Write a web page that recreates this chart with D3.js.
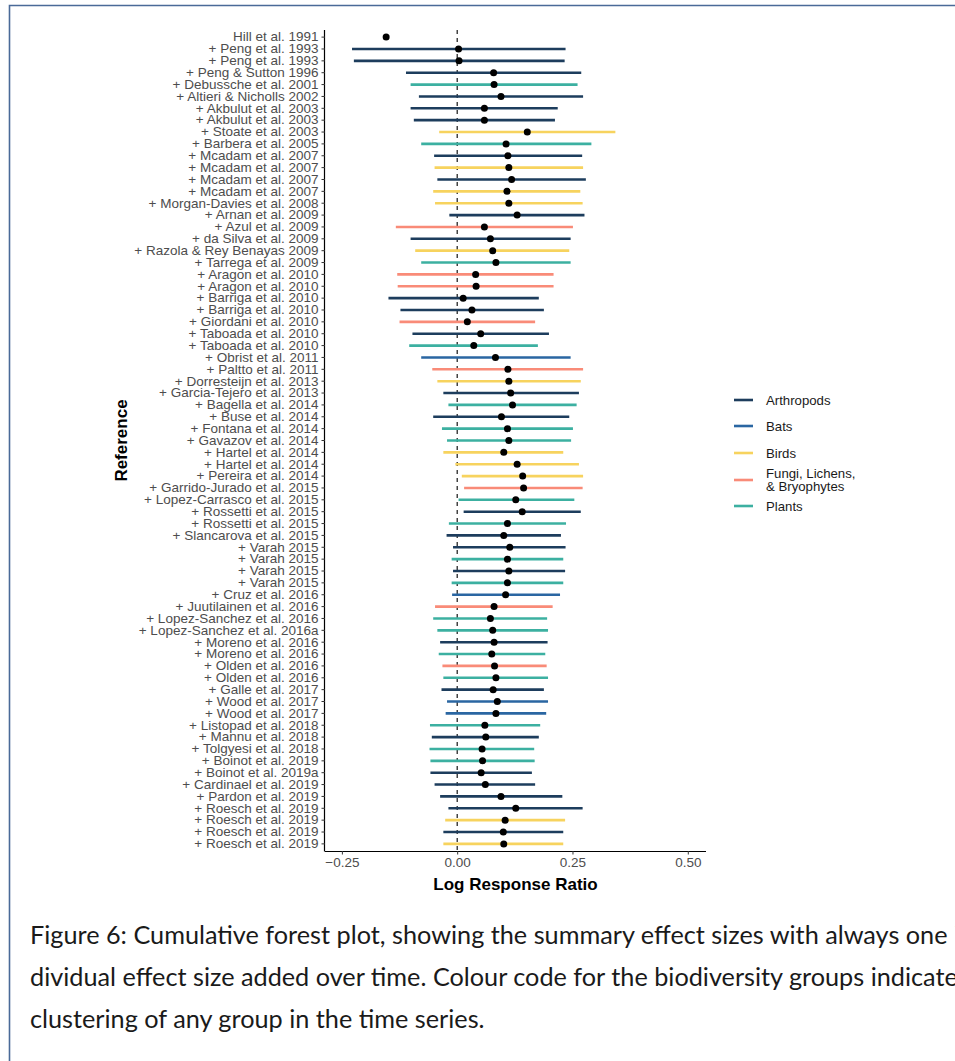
<!DOCTYPE html>
<html>
<head>
<meta charset="utf-8">
<script src="https://cdn.jsdelivr.net/npm/d3@7"></script>
<style>
  html, body { margin: 0; padding: 0; background: #fff; }
  svg { display: block; }
</style>
</head>
<body>
<svg id="chart" width="955" height="1061"></svg>
<script>
// Cumulative meta-analysis: one study added per row
const references = [
  "Hill et al. 1991", "+ Peng et al. 1993", "+ Peng et al. 1993", "+ Peng & Sutton 1996",
  "+ Debussche et al. 2001", "+ Altieri & Nicholls 2002", "+ Akbulut et al. 2003", "+ Akbulut et al. 2003",
  "+ Stoate et al. 2003", "+ Barbera et al. 2005", "+ Mcadam et al. 2007", "+ Mcadam et al. 2007",
  "+ Mcadam et al. 2007", "+ Mcadam et al. 2007", "+ Morgan-Davies et al. 2008", "+ Arnan et al. 2009",
  "+ Azul et al. 2009", "+ da Silva et al. 2009", "+ Razola & Rey Benayas 2009", "+ Tarrega et al. 2009",
  "+ Aragon et al. 2010", "+ Aragon et al. 2010", "+ Barriga et al. 2010", "+ Barriga et al. 2010",
  "+ Giordani et al. 2010", "+ Taboada et al. 2010", "+ Taboada et al. 2010", "+ Obrist et al. 2011",
  "+ Paltto et al. 2011", "+ Dorresteijn et al. 2013", "+ Garcia-Tejero et al. 2013", "+ Bagella et al. 2014",
  "+ Buse et al. 2014", "+ Fontana et al. 2014", "+ Gavazov et al. 2014", "+ Hartel et al. 2014",
  "+ Hartel et al. 2014", "+ Pereira et al. 2014", "+ Garrido-Jurado et al. 2015", "+ Lopez-Carrasco et al. 2015",
  "+ Rossetti et al. 2015", "+ Rossetti et al. 2015", "+ Slancarova et al. 2015", "+ Varah 2015",
  "+ Varah 2015", "+ Varah 2015", "+ Varah 2015", "+ Cruz et al. 2016",
  "+ Juutilainen et al. 2016", "+ Lopez-Sanchez et al. 2016", "+ Lopez-Sanchez et al. 2016a", "+ Moreno et al. 2016",
  "+ Moreno et al. 2016", "+ Olden et al. 2016", "+ Olden et al. 2016", "+ Galle et al. 2017",
  "+ Wood et al. 2017", "+ Wood et al. 2017", "+ Listopad et al. 2018", "+ Mannu et al. 2018",
  "+ Tolgyesi et al. 2018", "+ Boinot et al. 2019", "+ Boinot et al. 2019a", "+ Cardinael et al. 2019",
  "+ Pardon et al. 2019", "+ Roesch et al. 2019", "+ Roesch et al. 2019", "+ Roesch et al. 2019",
  "+ Roesch et al. 2019"
];

const estimate = [
  -0.154, 0.003, 0.004, 0.079, 0.080, 0.095, 0.059, 0.059,
  0.152, 0.106, 0.110, 0.112, 0.118, 0.108, 0.112, 0.130,
  0.059, 0.072, 0.077, 0.084, 0.040, 0.041, 0.013, 0.032,
  0.022, 0.051, 0.036, 0.083, 0.110, 0.112, 0.116, 0.120,
  0.096, 0.109, 0.112, 0.101, 0.130, 0.142, 0.144, 0.127,
  0.141, 0.109, 0.101, 0.114, 0.109, 0.112, 0.109, 0.105,
  0.080, 0.072, 0.077, 0.080, 0.075, 0.081, 0.084, 0.078,
  0.087, 0.084, 0.060, 0.062, 0.054, 0.055, 0.052, 0.061,
  0.095, 0.127, 0.104, 0.100, 0.101
];

// lower / upper confidence limits (first study has no interval drawn)
const ciLower = [
  null, -0.228, -0.224, -0.111, -0.101, -0.083, -0.101, -0.094,
  -0.039, -0.078, -0.050, -0.049, -0.043, -0.052, -0.048, -0.017,
  -0.133, -0.101, -0.091, -0.078, -0.130, -0.129, -0.149, -0.123,
  -0.125, -0.097, -0.104, -0.078, -0.054, -0.043, -0.030, -0.019,
  -0.052, -0.033, -0.022, -0.030, -0.004, 0.010, 0.015, 0.003,
  0.014, -0.018, -0.023, -0.009, -0.012, -0.009, -0.012, -0.011,
  -0.048, -0.052, -0.043, -0.037, -0.040, -0.032, -0.030, -0.034,
  -0.022, -0.025, -0.059, -0.055, -0.060, -0.058, -0.058, -0.049,
  -0.037, -0.019, -0.026, -0.030, -0.030
];

const ciUpper = [
  null, 0.235, 0.233, 0.269, 0.261, 0.273, 0.218, 0.212,
  0.343, 0.291, 0.271, 0.273, 0.279, 0.267, 0.272, 0.276,
  0.251, 0.246, 0.243, 0.246, 0.209, 0.209, 0.177, 0.188,
  0.169, 0.199, 0.175, 0.246, 0.273, 0.268, 0.264, 0.259,
  0.243, 0.251, 0.247, 0.230, 0.264, 0.273, 0.272, 0.254,
  0.268, 0.236, 0.225, 0.235, 0.230, 0.234, 0.230, 0.223,
  0.207, 0.195, 0.197, 0.196, 0.191, 0.194, 0.197, 0.188,
  0.197, 0.193, 0.180, 0.177, 0.167, 0.168, 0.162, 0.169,
  0.228, 0.272, 0.234, 0.230, 0.230
];

const groupOf = [
  "Arthropods", "Arthropods", "Arthropods", "Arthropods", "Plants", "Arthropods", "Arthropods", "Arthropods",
  "Birds", "Plants", "Arthropods", "Birds", "Arthropods", "Birds", "Birds", "Arthropods",
  "Fungi, Lichens, & Bryophytes", "Arthropods", "Birds", "Plants", "Fungi, Lichens, & Bryophytes", "Fungi, Lichens, & Bryophytes", "Arthropods", "Arthropods",
  "Fungi, Lichens, & Bryophytes", "Arthropods", "Plants", "Bats", "Fungi, Lichens, & Bryophytes", "Birds", "Arthropods", "Plants",
  "Arthropods", "Plants", "Plants", "Birds", "Birds", "Birds", "Fungi, Lichens, & Bryophytes", "Plants",
  "Arthropods", "Plants", "Arthropods", "Arthropods", "Plants", "Arthropods", "Plants", "Bats",
  "Fungi, Lichens, & Bryophytes", "Plants", "Plants", "Arthropods", "Plants", "Fungi, Lichens, & Bryophytes", "Plants", "Arthropods",
  "Bats", "Bats", "Plants", "Arthropods", "Plants", "Plants", "Arthropods", "Arthropods",
  "Arthropods", "Arthropods", "Birds", "Arthropods", "Birds"
];

const groups = ["Arthropods", "Bats", "Birds", "Fungi, Lichens, & Bryophytes", "Plants"];
const groupColors = ["#1d3d5d", "#2a66a2", "#f7d35e", "#f98b78", "#3cb0a1"];

const xTicks = [-0.25, 0, 0.25, 0.5];

const caption = [
  "Figure 6: Cumulative forest plot, showing the summary effect sizes with always one in-",
  "dividual effect size added over time. Colour code for the biodiversity groups indicates",
  "clustering of any group in the time series."
];

const rows = references.map((r, i) => ({
  key: i, label: r, est: estimate[i], lo: ciLower[i], hi: ciUpper[i], group: groupOf[i]
}));

const sans = "'Liberation Sans', Arial, Helvetica, sans-serif";
const svg = d3.select("#chart");

// figure frame
svg.append("path")
  .attr("d", "M9.5,1061 V5.5 H955")
  .attr("fill", "none")
  .attr("stroke", "#4a6a98")
  .attr("stroke-width", 1.6);

const panel = { left: 325, right: 706, top: 30, bottom: 851 };

const x = d3.scaleLinear()
  .domain([-0.2866, 0.5395])
  .range([panel.left, panel.right]);

const y = d3.scaleBand()
  .domain(rows.map(d => d.key))
  .range([panel.top, panel.bottom])
  .paddingOuter(0.1)
  .paddingInner(0)
  .align(0.5);

const color = d3.scaleOrdinal().domain(groups).range(groupColors);
const yc = k => y(k) + y.bandwidth() / 2;

// zero reference line
svg.append("line")
  .attr("x1", x(0)).attr("x2", x(0))
  .attr("y1", panel.top).attr("y2", panel.bottom)
  .attr("stroke", "#000")
  .attr("stroke-width", 1.1)
  .attr("stroke-dasharray", "4,4");

// confidence intervals
svg.append("g").selectAll("line")
  .data(rows.filter(d => d.lo !== null))
  .join("line")
  .attr("x1", d => x(d.lo))
  .attr("x2", d => x(d.hi))
  .attr("y1", d => yc(d.key))
  .attr("y2", d => yc(d.key))
  .attr("stroke", d => color(d.group))
  .attr("stroke-width", 2.6);

// summary estimates
svg.append("g").selectAll("circle")
  .data(rows)
  .join("circle")
  .attr("cx", d => x(d.est))
  .attr("cy", d => yc(d.key))
  .attr("r", 3.5)
  .attr("fill", "#000");

// x axis
const xAxis = svg.append("g")
  .attr("transform", `translate(0,${panel.bottom})`)
  .call(d3.axisBottom(x).tickValues(xTicks).tickFormat(d3.format(".2f")).tickSizeOuter(0).tickSize(3.5).tickPadding(3));
xAxis.select(".domain").attr("stroke", "#000").attr("stroke-width", 1.2)
  .attr("d", `M${panel.left},0.5H${panel.right}`);
xAxis.selectAll(".tick line").attr("stroke", "#333");
xAxis.selectAll(".tick text")
  .attr("fill", "#4d4d4d")
  .style("font-family", sans)
  .style("font-size", "13.5px");

// y axis
const yAxis = svg.append("g")
  .attr("transform", `translate(${panel.left},0)`)
  .call(d3.axisLeft(y).tickFormat(k => references[k]).tickSizeOuter(0).tickSize(3.5).tickPadding(3));
yAxis.select(".domain").attr("stroke", "#000").attr("stroke-width", 1.2)
  .attr("d", `M-0.5,${panel.top}V${panel.bottom + 0.5}`);
yAxis.selectAll(".tick line").attr("stroke", "#333");
yAxis.selectAll(".tick text")
  .attr("fill", "#4d4d4d")
  .style("font-family", sans)
  .style("font-size", "13.5px");

// axis titles
svg.append("text")
  .attr("x", (panel.left + panel.right) / 2)
  .attr("y", 890)
  .attr("text-anchor", "middle")
  .style("font-family", sans)
  .style("font-size", "17px")
  .style("font-weight", "bold")
  .text("Log Response Ratio");

svg.append("text")
  .attr("transform", `translate(127,${(panel.top + panel.bottom) / 2}) rotate(-90)`)
  .attr("text-anchor", "middle")
  .style("font-family", sans)
  .style("font-size", "17px")
  .style("font-weight", "bold")
  .text("Reference");

// legend
const legendY = [400, 426, 453, 480, 506];
const legend = svg.append("g");
groups.forEach((g, i) => {
  const ly = legendY[i];
  legend.append("line")
    .attr("x1", 734).attr("x2", 753)
    .attr("y1", ly).attr("y2", ly)
    .attr("stroke", color(g))
    .attr("stroke-width", 2.6);
  const parts = g === "Fungi, Lichens, & Bryophytes" ? ["Fungi, Lichens,", "& Bryophytes"] : [g];
  const t = legend.append("text")
    .attr("x", 766)
    .attr("y", ly - (parts.length - 1) * 6.5 + 4.5)
    .attr("fill", "#1a1a1a")
    .style("font-family", sans)
    .style("font-size", "13.2px");
  parts.forEach((p, j) => {
    t.append("tspan").attr("x", 766).attr("dy", j === 0 ? 0 : 13).text(p);
  });
});

// figure caption: font size chosen so the first line runs to the page edge
const capFont = "Lato, 'Open Sans', sans-serif";
const probe = svg.append("text")
  .style("font-family", capFont)
  .style("font-size", "20px")
  .text("Figure 6: Cumulative forest plot, showing the summary effect sizes with always one");
const probeW = probe.node().getComputedTextLength();
probe.remove();
const capSize = 20 * 918 / probeW;

svg.append("g").selectAll("text")
  .data(caption)
  .join("text")
  .attr("x", 30)
  .attr("y", (d, i) => 944 + i * 42)
  .attr("fill", "#1a1a1a")
  .style("font-family", capFont)
  .style("font-size", capSize + "px")
  .text(d => d);
</script>
</body>
</html>
